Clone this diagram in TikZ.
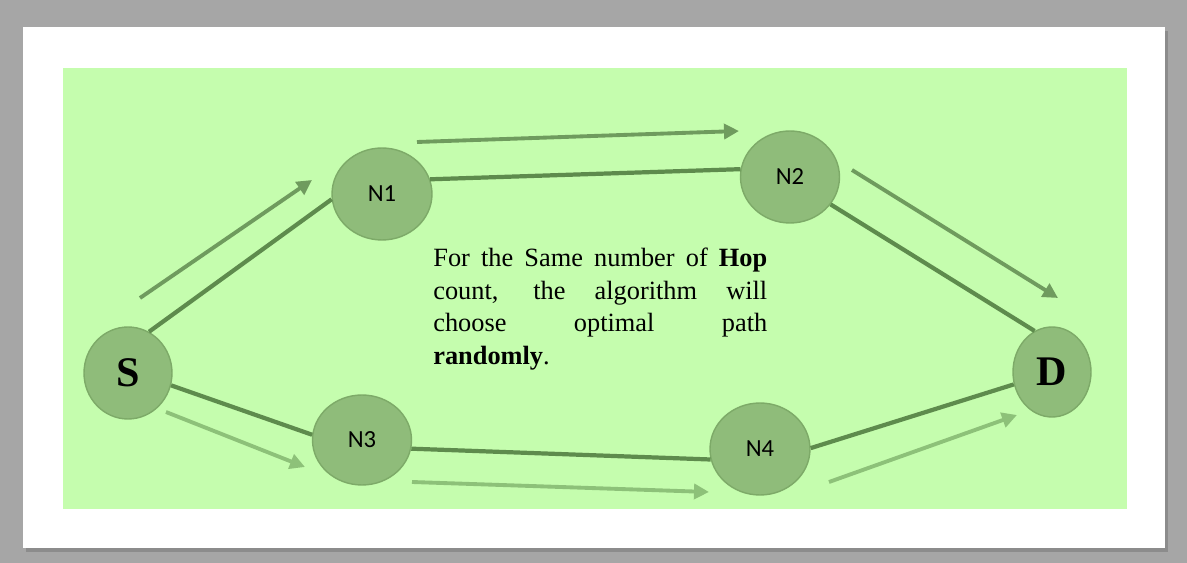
\documentclass[tikz,border=0pt]{standalone}
\usepackage{fontspec}
\setmainfont{Liberation Serif}
\newfontfamily\nodefont{Carlito}
\usetikzlibrary{arrows.meta,shapes.geometric}
\definecolor{framegray}{HTML}{A6A6A6}
\definecolor{shadowgray}{HTML}{8C8C8C}
\definecolor{bggreen}{HTML}{C5FDAE}
\definecolor{nodegreen}{HTML}{8FBC7A}
\definecolor{nodeedge}{HTML}{7DAA68}
\definecolor{linkgreen}{HTML}{5E8B4D}
\definecolor{hopgreen}{HTML}{6F9B5E}
\definecolor{altgreen}{HTML}{8DC179}
\tikzset{
    hop/.style={ellipse, draw=nodeedge, fill=nodegreen, line width=0.8pt, inner sep=0pt,
        minimum width=2cm, minimum height=1.84cm, font=\nodefont\fontsize{14}{14}\selectfont},
    endpoint/.style={hop, font=\bfseries\fontsize{24}{24}\selectfont},
    link/.style={draw=linkgreen, line width=2.4pt},
    route/.style={draw=hopgreen, line width=2.2pt, -{Triangle[length=0.3cm,width=0.3cm]}},
    altroute/.style={route, draw=altgreen},
}
\begin{document}
\begin{tikzpicture}[x=0.02cm,y=-0.02cm]
        %% Frame
        \begin{scope}
            \fill[framegray] (0,0) rectangle (1187,563);
            \useasboundingbox (0,0) rectangle (1187,563);
            \fill[shadowgray] (26,31) rectangle (1168,552);
            \fill[white] (23,27) rectangle (1165,548);
            \fill[bggreen] (63,68) rectangle (1127,509);
        \end{scope}
        %% Nodes
        \node[endpoint, minimum width=1.76cm] (S) at (128,373) {S};
        \node[hop] (N1) at (382,194) {N1};
        \node[hop, minimum width=1.98cm] (N2) at (790,177) {N2};
        \node[hop, minimum width=1.98cm, minimum height=1.8cm] (N3) at (362,440) {N3};
        \node[hop] (N4) at (760,449) {N4};
        \node[endpoint, minimum width=1.56cm, minimum height=1.8cm] (D) at (1052,372) {D};
        %% Links
        \draw[link] (S.63) -- (N1.186);
        \draw[link] (N1.17) -- (N2.171);
        \draw[link] (N2.-34) -- (D.113);
        \draw[link] (S.-16) -- (N3.174);
        \draw[link] (N3.-10) -- (N4.192);
        \draw[link] (N4.1) -- (D.198);
        %% Upper route
        \coordinate (u1) at (140,298);
        \coordinate (u2) at (312,180);
        \coordinate (u3) at (417,142);
        \coordinate (u4) at (739,131);
        \coordinate (u5) at (852,170);
        \coordinate (u6) at (1058,298);
        \draw[route] (u1) -- (u2);
        \draw[route] (u3) -- (u4);
        \draw[route] (u5) -- (u6);
        %% Lower route
        \coordinate (l1) at (166,412);
        \coordinate (l2) at (305,467);
        \coordinate (l3) at (412,482);
        \coordinate (l4) at (709,492);
        \coordinate (l5) at (829,482);
        \coordinate (l6) at (1017,415);
        \draw[altroute] (l1) -- (l2);
        \draw[altroute] (l3) -- (l4);
        \draw[altroute] (l5) -- (l6);
        %% Note
        \node[text width=6.68cm, align=justify, inner sep=0pt, anchor=north west,
            font=\fontsize{15}{18.5}\selectfont] (note) at (433,248)
            {For the Same number of \textbf{Hop}\linebreak
             count, the algorithm will\linebreak
             choose optimal path\linebreak
             \textbf{randomly}.};
    \end{tikzpicture}
\end{document}
